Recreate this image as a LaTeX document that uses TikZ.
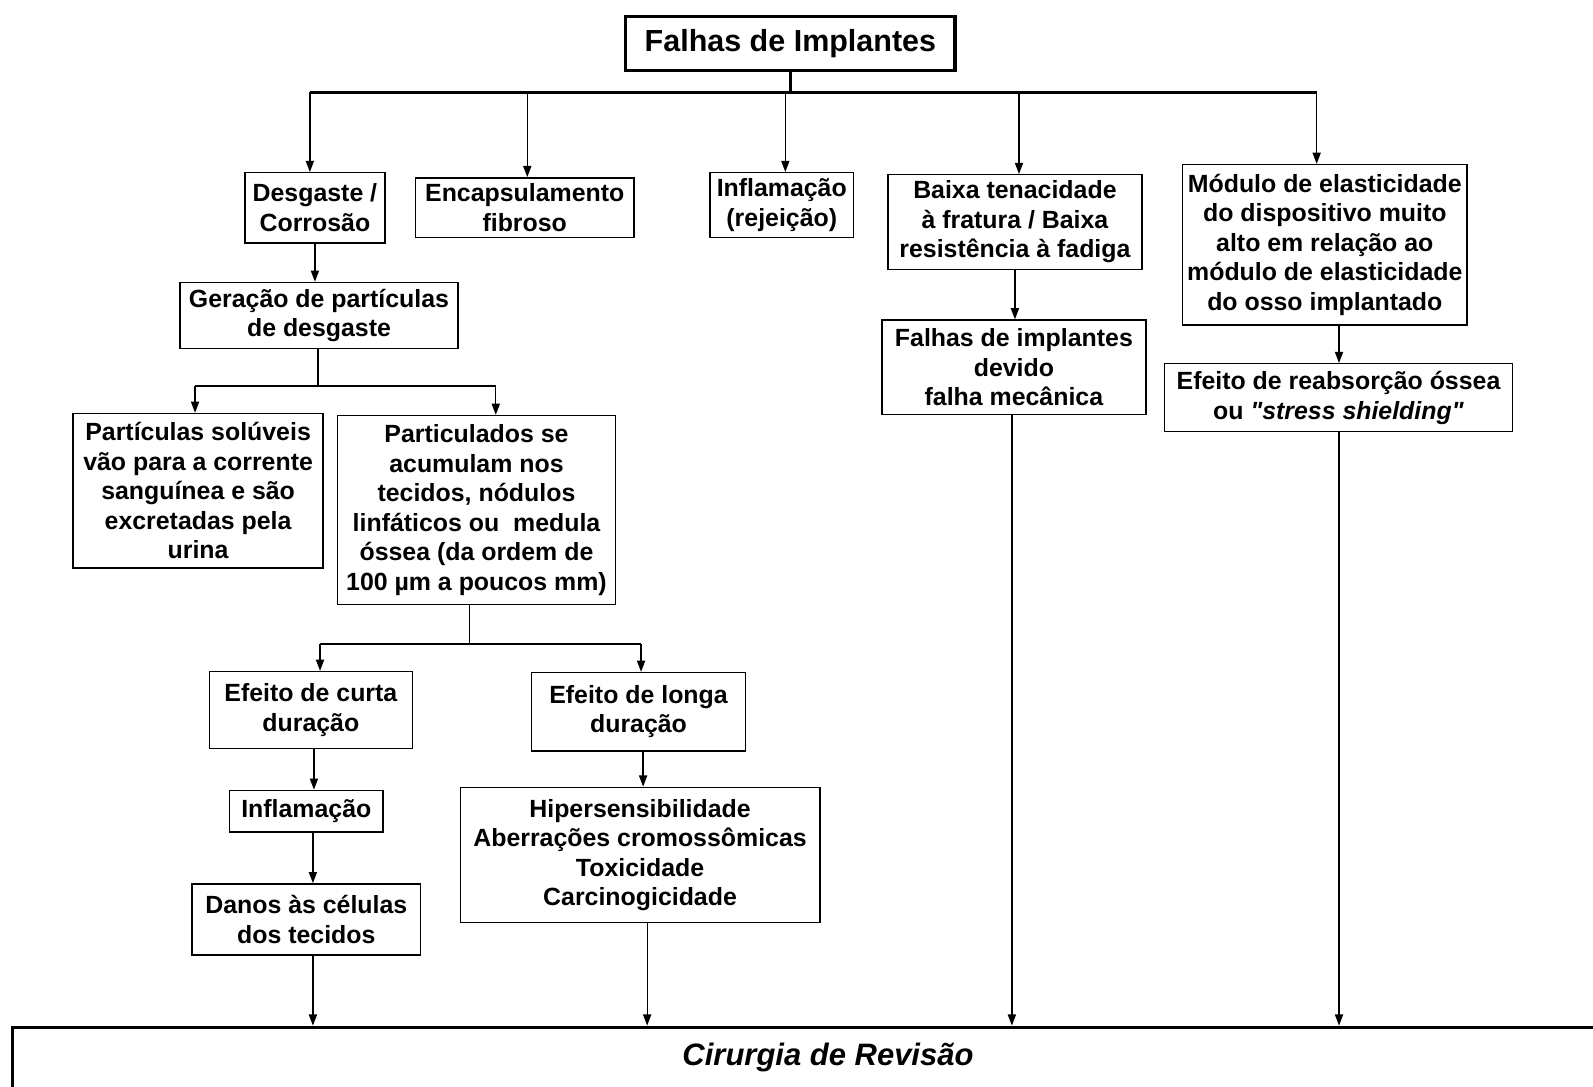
\documentclass[tikz,border=0pt]{standalone}
\usepackage{fontspec}
\setmainfont{Liberation Sans}[Ligatures=TeXOff]
\usetikzlibrary{arrows.meta}
\begin{document}
\begin{tikzpicture}[x=1pt,y=-1pt,
  box/.style={draw=black, line width=1.4pt, inner sep=0pt, align=center,
    font=\fontsize{24.5}{29}\selectfont\bfseries},
  bigbox/.style={draw=black, line width=3pt, inner sep=0pt, align=center},
  arr/.style={line width=1.3pt, -{Triangle[length=11pt,width=8pt]}},
  link/.style={line width=1.3pt},
  bar/.style={line width=3pt}]
\clip (0,0) rectangle (1568,1069);
\fill[white] (0,0) rectangle (1568,1069);

% root and first level
\node[bigbox, minimum width=324, minimum height=53,
  font=\fontsize{30}{36}\selectfont\bfseries] (title) at (778,42.5) {Falhas de Implantes};

\node[box, minimum width=138, minimum height=69] (desg) at (310,204.5) {Desgaste /\\Corrosão};
\node[box, minimum width=215, minimum height=59] (enc) at (516.5,204.5) {Encapsulamento\\fibroso};
\node[box, minimum width=141, minimum height=64] (infl) at (769.5,202) {Inflamação\\(rejeição)};
\node[box, minimum width=250, minimum height=93] (baixa) at (999,218.5) {Baixa tenacidade\\à fratura / Baixa\\resistência à fadiga};
\node[box, minimum width=280, minimum height=158] (mod) at (1304,241) {Módulo de elasticidade\\do dispositivo muito\\alto em relação ao\\módulo de elasticidade\\do osso implantado};

% wear branch
\node[box, minimum width=274, minimum height=65] (gera) at (314,310.5) {Geração de partículas\\de desgaste};
\node[box, minimum width=246, minimum height=152] (solu) at (195,483) {Partículas solúveis\\vão para a corrente\\sanguínea e são\\excretadas pela\\urina};
\node[box, minimum width=274, minimum height=186] (part) at (469,502) {Particulados se\\acumulam nos\\tecidos, nódulos\\linfáticos ou\ \ medula\\óssea (da ordem de\\100 µm a poucos mm)};
\node[box, minimum width=200, minimum height=76] (curta) at (306,699) {Efeito de curta\\duração};
\node[box, minimum width=211, minimum height=77] (longa) at (628.5,700.5) {Efeito de longa\\duração};
\node[box, minimum width=151, minimum height=41] (inf2) at (301.5,798.5) {Inflamação};
\node[box, minimum width=225, minimum height=70] (danos) at (301.5,905) {Danos às células\\dos tecidos};
\node[box, minimum width=354, minimum height=133] (hip) at (630,841.5) {Hipersensibilidade\\Aberrações cromossômicas\\Toxicidade\\Carcinogicidade};

% mechanical branches
\node[box, minimum width=260, minimum height=93] (falhas) at (998,361.5) {Falhas de implantes\\devido\\falha mecânica};
\node[box, minimum width=343, minimum height=67] (reab) at (1317.5,391.5) {Efeito de reabsorção óssea\\ou \textit{"stress shielding"}};

% outcome
\node[bigbox, minimum width=1606, minimum height=60,
  font=\fontsize{30.5}{36}\selectfont\bfseries\itshape] (rev) at (815,1041) {Cirurgia de Revisão};

% distribution bar under the root
\coordinate (t1) at (305,91);
\coordinate (t2) at (519,91);
\coordinate (t3) at (773,91);
\coordinate (t4) at (1003,91);
\coordinate (t5) at (1296,91);
\draw[line width=2.2pt] (title.south) -- (title.south |- t1);
\draw[bar] (t1) -- (t5);
\draw[arr] (t1) -- (t1 |- desg.north);
\draw[arr] (t2) -- (t2 |- enc.north);
\draw[arr] (t3) -- (t3 |- infl.north);
\draw[arr] (t4) -- (t4 |- baixa.north);
\draw[arr] (t5) -- (t5 |- mod.north);

% wear chain
\draw[arr] (desg.south) -- (desg.south |- gera.north);
\coordinate (g0) at (313,380);
\coordinate (g1) at (192,380);
\coordinate (g2) at (488,380);
\draw[link] (gera.south -| g0) -- (g0);
\draw[link] (g1) -- (g2);
\draw[arr] (g1) -- (g1 |- solu.north);
\draw[arr] (g2) -- (g2 |- part.north);

\coordinate (p0) at (462,634);
\coordinate (p1) at (315,634);
\coordinate (p2) at (631,634);
\draw[link] (part.south -| p0) -- (p0);
\draw[link] (p1) -- (p2);
\draw[arr] (p1) -- (p1 |- curta.north);
\draw[arr] (p2) -- (p2 |- longa.north);

\coordinate (c0) at (309,0);
\coordinate (c1) at (308,0);
\draw[arr] (curta.south -| c0) -- (c0 |- inf2.north);
\draw[arr] (inf2.south -| c1) -- (c1 |- danos.north);
\draw[arr] (danos.south -| c1) -- (c1 |- rev.north);

\coordinate (l0) at (633,0);
\coordinate (l1) at (637,0);
\draw[arr] (longa.south -| l0) -- (l0 |- hip.north);
\draw[arr] (hip.south -| l1) -- (l1 |- rev.north);

% mechanical chains
\draw[arr] (baixa.south) -- (baixa.south |- falhas.north);
\coordinate (f0) at (996,0);
\draw[arr] (falhas.south -| f0) -- (f0 |- rev.north);
\coordinate (m0) at (1318,0);
\draw[arr] (mod.south -| m0) -- (m0 |- reab.north);
\draw[arr] (reab.south -| m0) -- (m0 |- rev.north);
\end{tikzpicture}
\end{document}
